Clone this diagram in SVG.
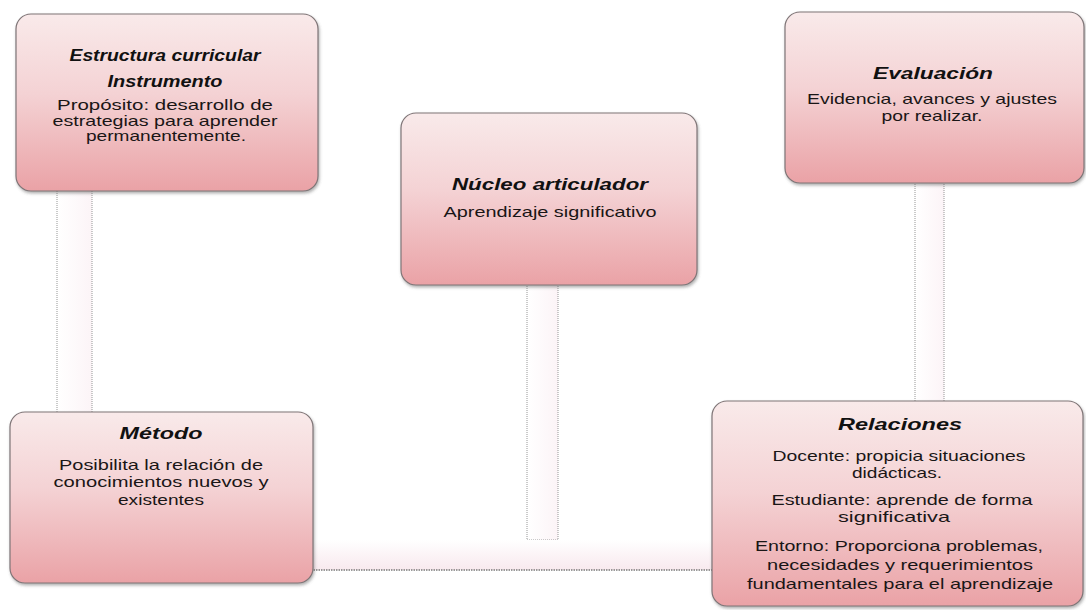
<svg xmlns="http://www.w3.org/2000/svg" width="1086" height="610" viewBox="0 0 1086 610">
<defs>
<linearGradient id="boxg" x1="0" y1="0" x2="0" y2="1">
<stop offset="0" stop-color="#f9eaea"/>
<stop offset="0.45" stop-color="#f4d2d4"/>
<stop offset="1" stop-color="#eaa2a6"/>
</linearGradient>
<linearGradient id="pipev" x1="0" y1="0" x2="1" y2="0">
<stop offset="0" stop-color="#ffffff"/>
<stop offset="1" stop-color="#fcf4f7"/>
</linearGradient>
<linearGradient id="pipeh" x1="0" y1="0" x2="0" y2="1">
<stop offset="0" stop-color="#ffffff"/>
<stop offset="1" stop-color="#f8e9ee"/>
</linearGradient>
<filter id="sh" x="-5%" y="-5%" width="110%" height="115%">
<feDropShadow dx="1" dy="2" stdDeviation="1.5" flood-color="#555" flood-opacity="0.45"/>
</filter>
</defs>
<style>
.box{fill:url(#boxg);stroke:#7f7577;stroke-width:1.2;filter:url(#sh)}
.pv{fill:url(#pipev);stroke:#8a8a8a;stroke-width:0.9;stroke-dasharray:1 1}
.ph{fill:url(#pipeh);stroke:none}
.edge{stroke:#7a7a7a;stroke-width:1.3;stroke-dasharray:1.5 1;fill:none}
.t{font-family:"Liberation Sans",Arial,sans-serif;font-size:16px;font-weight:bold;font-style:italic;fill:#111;text-anchor:middle}
.b{font-family:"Liberation Sans",Arial,sans-serif;font-size:14.5px;fill:#1a1616;text-anchor:middle}
</style>
<rect width="1086" height="610" fill="#ffffff"/>
<g id="connectors">
<rect class="pv" x="57" y="188" width="35" height="226"/>
<rect class="pv" x="915" y="181" width="29" height="222"/>
<rect class="pv" x="527" y="283" width="31" height="257"/>
<rect class="ph" x="311" y="540" width="403" height="30"/>
<line class="edge" x1="311" y1="570" x2="714" y2="570"/>
</g>
<g id="node-estructura">
<rect class="box" x="16" y="14" width="302" height="177" rx="15"/>
<text class="t" x="165" y="61" textLength="191" lengthAdjust="spacingAndGlyphs">Estructura curricular</text>
<text class="t" x="165" y="87" textLength="115" lengthAdjust="spacingAndGlyphs">Instrumento</text>
<text class="b" x="165" y="110" textLength="216" lengthAdjust="spacingAndGlyphs">Propósito: desarrollo de</text>
<text class="b" x="165" y="126" textLength="225" lengthAdjust="spacingAndGlyphs">estrategias para aprender</text>
<text class="b" x="166" y="141" textLength="160" lengthAdjust="spacingAndGlyphs">permanentemente.</text>
</g>
<g id="node-nucleo">
<rect class="box" x="401" y="113" width="296" height="172" rx="15"/>
<text class="t" x="550" y="190" textLength="196" lengthAdjust="spacingAndGlyphs">Núcleo articulador</text>
<text class="b" x="550" y="217" textLength="213" lengthAdjust="spacingAndGlyphs">Aprendizaje  significativo</text>
</g>
<g id="node-evaluacion">
<rect class="box" x="785" y="12" width="299" height="171" rx="15"/>
<text class="t" x="933" y="79" textLength="120" lengthAdjust="spacingAndGlyphs">Evaluación</text>
<text class="b" x="932" y="104" textLength="250" lengthAdjust="spacingAndGlyphs">Evidencia, avances y ajustes</text>
<text class="b" x="932" y="121" textLength="101" lengthAdjust="spacingAndGlyphs">por realizar.</text>
</g>
<g id="node-metodo">
<rect class="box" x="10" y="412" width="303" height="171" rx="15"/>
<text class="t" x="161" y="439" textLength="83" lengthAdjust="spacingAndGlyphs">Método</text>
<text class="b" x="161" y="470" textLength="204" lengthAdjust="spacingAndGlyphs">Posibilita la relación de</text>
<text class="b" x="161" y="487" textLength="215" lengthAdjust="spacingAndGlyphs">conocimientos nuevos  y</text>
<text class="b" x="161" y="505" textLength="86" lengthAdjust="spacingAndGlyphs">existentes</text>
</g>
<g id="node-relaciones">
<rect class="box" x="712" y="401" width="371" height="205" rx="15"/>
<text class="t" x="900" y="430" textLength="124" lengthAdjust="spacingAndGlyphs">Relaciones</text>
<text class="b" x="899" y="461" textLength="253" lengthAdjust="spacingAndGlyphs">Docente: propicia situaciones</text>
<text class="b" x="897" y="478" textLength="90" lengthAdjust="spacingAndGlyphs">didácticas.</text>
<text class="b" x="902" y="505" textLength="261" lengthAdjust="spacingAndGlyphs">Estudiante:  aprende de forma</text>
<text class="b" x="894" y="522" textLength="112" lengthAdjust="spacingAndGlyphs">significativa</text>
<text class="b" x="899" y="551" textLength="288" lengthAdjust="spacingAndGlyphs">Entorno:  Proporciona problemas,</text>
<text class="b" x="900" y="570" textLength="266" lengthAdjust="spacingAndGlyphs">necesidades y requerimientos</text>
<text class="b" x="900" y="589" textLength="306" lengthAdjust="spacingAndGlyphs">fundamentales  para el aprendizaje</text>
</g>
</svg>
